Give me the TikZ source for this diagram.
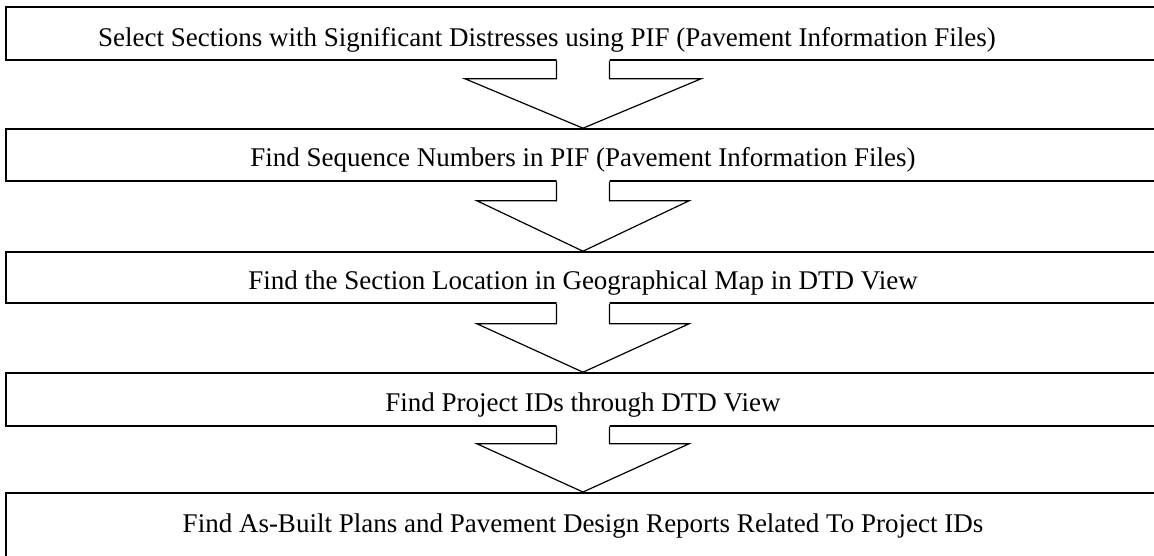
\documentclass[tikz,border=0pt]{standalone}
\usepackage{fontspec}
\setmainfont{Liberation Serif}
\usetikzlibrary{calc}
\tikzset{
  stepbox/.style={draw=black, line width=1.6pt, minimum width=1154pt, inner sep=0pt, text height=23pt, text depth=0pt, font=\fontsize{27}{30}\selectfont},
  steptext/.style={inner sep=0pt, text height=23pt, text depth=0pt, font=\fontsize{27}{30}\selectfont},
  blockarrow/.style={draw=black, line width=1.2pt, line join=miter},
}
\newcommand{\flowarrow}[5]{% from, to, stemhalf, headhalf, stemlen
  \fill[white] ($(#1.south)+(-#3,-2)$) -- ($(#1.south)+(-#3,#5)$) -- ($(#1.south)+(-#4,#5)$) -- (#2.north) -- ($(#1.south)+(#4,#5)$) -- ($(#1.south)+(#3,#5)$) -- ($(#1.south)+(#3,-2)$) -- cycle;
  \draw[blockarrow] ($(#1.south)+(-#3,0)$) -- ($(#1.south)+(-#3,#5)$) -- ($(#1.south)+(-#4,#5)$) -- (#2.north) -- ($(#1.south)+(#4,#5)$) -- ($(#1.south)+(#3,#5)$) -- ($(#1.south)+(#3,0)$);
}
\begin{document}
\begin{tikzpicture}[x=1pt,y=-1pt]
\clip (0,0) rectangle (1154,555);
\fill[white] (0,0) rectangle (1154,555);
\node[stepbox, minimum height=53pt] (b1) at (583,33.5) {};
\node[steptext] (t1) at (547,34.5) {Select Sections with Significant Distresses using PIF (Pavement Information Files)};
\node[stepbox, minimum height=52pt] (b2) at (583,155) {Find Sequence Numbers in PIF (Pavement Information Files)};
\node[stepbox, minimum height=51pt] (b3) at (583,277.5) {Find the Section Location in Geographical Map in DTD View};
\node[stepbox, minimum height=53pt] (b4) at (583,399.5) {Find Project IDs through DTD View};
\node[stepbox, line width=2.2pt, minimum height=90pt, anchor=north] (b5) at (583,492) {};
\node[steptext] (t5) at (583,520.5) {Find As-Built Plans and Pavement Design Reports Related To Project IDs};
\flowarrow{b1}{b2}{26.5}{118}{18}
\flowarrow{b2}{b3}{26.5}{106}{19}
\flowarrow{b3}{b4}{26.5}{106}{20}
\flowarrow{b4}{b5}{26.5}{106}{17}
\end{tikzpicture}
\end{document}
